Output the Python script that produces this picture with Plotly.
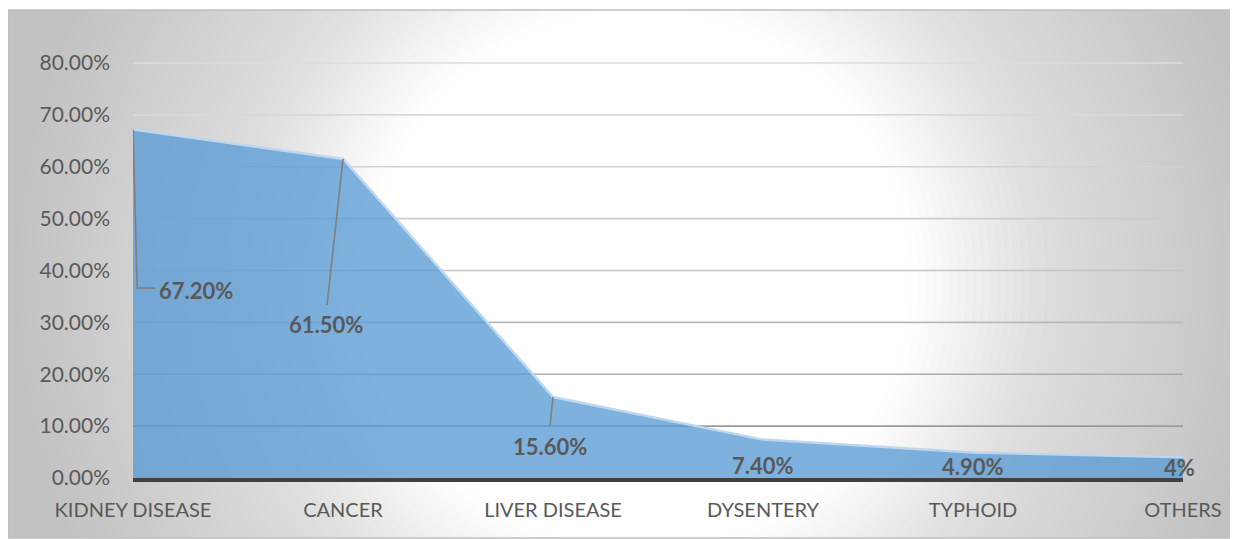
import plotly.graph_objects as go

# ---- data ----
categories = ["KIDNEY DISEASE", "CANCER", "LIVER DISEASE", "DYSENTERY", "TYPHOID", "OTHERS"]
values = [67.2, 61.5, 15.6, 7.4, 4.9, 4.0]
value_labels = ["67.20%", "61.50%", "15.60%", "7.40%", "4.90%", "4%"]
y_ticks = [0, 10, 20, 30, 40, 50, 60, 70, 80]
y_tick_text = ["%.2f%%" % v for v in y_ticks]

# ---- layout constants ----
# page body has an 8px margin, so the figure is sized/offset to compensate
OFF = 8
W, H = 1238 - OFF, 539 - OFF
PLOT_L, PLOT_R = 133, 1183          # reference pixels of first/last category
Y0_PX, Y80_PX = 478, 63             # reference pixels of 0% and 80%
L = PLOT_L - OFF
R = W - (PLOT_R - OFF)
B = H - (Y0_PX - OFF)
T = 52
PW = W - L - R
PH = H - T - B
px_per_unit = (Y0_PX - Y80_PX) / 80.0
Y_TOP = PH / px_per_unit

def px_x(px):  # reference pixel -> paper x
    return (px - OFF - L) / PW

def px_y(py):  # reference pixel -> paper y
    return (H - B - (py - OFF)) / PH

TEXT = "#595959"
FONT = "Lato"

fig = go.Figure()
fig.add_trace(go.Scatter(
    x=categories, y=values, mode="lines", fill="tozeroy",
    line=dict(color="#bcd7ef", width=2.5),
    fillcolor="rgba(91,155,213,0.78)",
    hoverinfo="skip", showlegend=False,
))

shapes = []
# frame background (gray)
shapes.append(dict(type="rect", xref="paper", yref="paper", layer="below",
                   x0=px_x(8), x1=px_x(1237), y0=px_y(538), y1=px_y(10),
                   fillcolor="rgb(194,194,194)", line=dict(width=0)))
# radial white glow built from stacked translucent circles
cx, cy = 640, 280
r_in, r_out, n = 270, 630, 46
radii = [r_out - i * (r_out - r_in) / (n - 1) for i in range(n)]
prev = 1.0
for k, r in enumerate(radii):
    if k < n - 1:
        mid = (r + radii[k + 1]) / 2
        P = (mid - r_in) / (r_out - r_in)
    else:
        P = 0.0
    a = 1 - P / prev if prev > 0 else 1.0
    prev = P
    shapes.append(dict(type="circle", xref="paper", yref="paper", layer="below",
                       x0=px_x(cx - r), x1=px_x(cx + r), y0=px_y(cy + r), y1=px_y(cy - r),
                       fillcolor="white", opacity=max(0.0, min(1.0, a)), line=dict(width=0)))
# keep outside of the frame white
for (x0, x1, y0, y1) in [(-20, 8, -20, 560), (1237, 1260, -20, 560), (-20, 1260, -20, 10), (-20, 1260, 538, 560)]:
    shapes.append(dict(type="rect", xref="paper", yref="paper", layer="below",
                       x0=px_x(x0), x1=px_x(x1), y0=px_y(y1), y1=px_y(y0),
                       fillcolor="white", line=dict(width=0)))
# frame border
shapes.append(dict(type="rect", xref="paper", yref="paper", layer="below",
                   x0=px_x(8), x1=px_x(1237), y0=px_y(538), y1=px_y(10),
                   fillcolor="rgba(0,0,0,0)", line=dict(color="#bfbfbf", width=1.5)))
# gridlines (lighter at top, darker towards the bottom)
grid_colors = {10: "#9a9a9a", 20: "#ababab", 30: "#b9b9b9", 40: "#c4c4c4",
               50: "#cccccc", 60: "#d2d2d2", 70: "#d8d8d8", 80: "#dddddd"}
for v in y_ticks[1:]:
    shapes.append(dict(type="line", xref="paper", yref="y", layer="below",
                       x0=0, x1=1, y0=v, y1=v,
                       line=dict(color=grid_colors[v], width=1.6)))

# leader lines (data coordinates: category index, value)
leader = dict(color="#7f7f7f", width=1.6)
shapes.append(dict(type="path", xref="x", yref="y", layer="above",
                   path="M 0,%s L 0.02,36.6 L 0.105,36.6" % values[0], line=leader))
shapes.append(dict(type="line", xref="x", yref="y", layer="above",
                   x0=1, y0=values[1], x1=0.924, y1=33.3, line=leader))
shapes.append(dict(type="line", xref="x", yref="y", layer="above",
                   x0=2, y0=values[2], x1=1.986, y1=10.2, line=leader))

label_pos = [(0.30, 36.2), (0.919, 29.5), (1.986, 6.0), (3.0, 2.5), (4.0, 2.3), (4.985, 2.1)]
annotations = []
for (lx, ly), txt in zip(label_pos, value_labels):
    annotations.append(dict(x=lx, y=ly, xref="x", yref="y", text="<b>%s</b>" % txt,
                            showarrow=False, font=dict(family=FONT, size=22, color=TEXT)))

fig.update_layout(
    width=W, height=H,
    margin=dict(l=L, r=R, t=T, b=B, pad=0),
    paper_bgcolor="white", plot_bgcolor="rgba(0,0,0,0)",
    font=dict(family=FONT, size=20, color=TEXT),
    shapes=shapes, annotations=annotations,
    xaxis=dict(type="category", range=[0, 5], showgrid=False, zeroline=False,
               showline=True, linecolor="#404040", linewidth=4, ticks="",
               ticklabelstandoff=11, tickfont=dict(family=FONT, size=20, color=TEXT)),
    yaxis=dict(range=[0, Y_TOP], tickvals=y_ticks, ticktext=y_tick_text,
               showgrid=False, zeroline=False, showline=False, ticks="",
               ticklabelstandoff=22, tickfont=dict(family=FONT, size=21, color=TEXT)),
)

fig.write_html("out.html")
